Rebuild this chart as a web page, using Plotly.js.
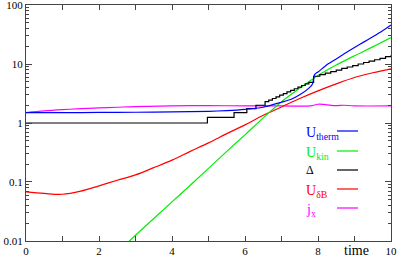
<!DOCTYPE html>
<html>
<head>
<meta charset="utf-8">
<script src="https://cdn.plot.ly/plotly-3.0.1.min.js"></script>
<style>html,body{margin:0;padding:0;background:#fff;}#chart{width:399px;height:258px;}</style>
</head>
<body>
<div id="chart"></div>
<script>
// ---- data ----
const thermT = [0, 1, 2, 3, 4, 5, 5.5, 6, 6.5, 7, 7.25, 7.5, 7.75, 7.85, 7.9, 7.95, 8, 8.25, 8.5, 8.75, 9, 9.25, 9.5, 9.75, 10];
const thermV = [1.5, 1.5, 1.51, 1.52, 1.54, 1.58, 1.62, 1.7, 1.85, 2.25, 2.5, 3.0, 3.9, 4.6, 6.5, 7.0, 7.3, 9.8, 12.2, 15.3, 19, 23.5, 29, 36, 46];

const kinT = [2.8, 3, 3.5, 4, 4.5, 5, 5.5, 6, 6.5, 7, 7.5, 8, 8.5, 9, 9.5, 10];
const kinV = [0.0095, 0.0125, 0.024, 0.046, 0.088, 0.17, 0.33, 0.63, 1.22, 2.3, 3.9, 6.4, 9.6, 13.8, 19.5, 28];

const deltaT = [0, 4.97, 5.7, 6.05, 6.3, 6.55, 6.65, 6.75, 6.85, 6.95, 7.05, 7.15, 7.25, 7.35, 7.45, 7.55, 7.65, 7.75, 7.88, 8.05, 8.2, 8.35, 8.5, 8.65, 8.8, 8.95, 9.1, 9.25, 9.4, 9.55, 9.7, 9.85, 10];
const deltaV = [1.0, 1.25, 1.5, 1.75, 2.0, 2.3, 2.45, 2.6, 2.78, 2.96, 3.15, 3.36, 3.58, 3.81, 4.06, 4.32, 4.6, 4.9, 6.2, 6.6, 7.0, 7.4, 7.9, 8.4, 8.9, 9.4, 10.0, 10.6, 11.2, 11.8, 12.5, 13.3, 14.1];

const dbT = [0, 0.5, 1, 1.5, 2, 2.5, 3, 3.5, 4, 4.5, 5, 5.5, 6, 6.5, 7, 7.5, 8, 8.5, 9, 9.5, 10];
const dbV = [0.068, 0.064, 0.062, 0.07, 0.086, 0.107, 0.132, 0.175, 0.235, 0.33, 0.46, 0.66, 0.93, 1.35, 1.87, 2.6, 3.5, 4.6, 5.9, 7.1, 8.3];

const jxT = [0, 0.5, 1, 1.5, 2, 2.5, 3, 4, 5, 6, 7, 7.8, 8, 8.2, 8.5, 8.7, 9, 10];
const jxV = [1.5, 1.6, 1.68, 1.75, 1.8, 1.85, 1.9, 1.95, 1.97, 1.95, 1.95, 1.95, 2.08, 2.05, 1.97, 2.0, 1.95, 1.95];

const seriesNames = ['U<sub>therm</sub>', 'U<sub>kin</sub>', 'Δ', 'U<sub>δB</sub>', 'j<sub>x</sub>'];
const seriesColors = ['#0000ff', '#00ee00', '#000000', '#ff0000', '#ff00ff'];

const xTickVals = [0, 1, 2, 3, 4, 5, 6, 7, 8, 9, 10];
const xTickText = ['0', '', '2', '', '4', '', '6', '', '8', '', '10'];
const yTickVals = [0.01, 0.1, 1, 10, 100];
const yTickText = ['0.01', '0.1', '1', '10', '100'];

// ---- build ----
const serif = 'Liberation Serif, Times New Roman, serif';
const yMinor = [];
[0.01, 0.1, 1, 10].forEach(d => { for (let k = 2; k <= 9; k++) yMinor.push(d * k); });

const xs = [thermT, kinT, deltaT, dbT, jxT];
const ys = [thermV, kinV, deltaV, dbV, jxV];
const shapesOf = ['spline', 'spline', 'hv', 'spline', 'spline'];
const traces = xs.map((x, i) => ({
  x: x, y: ys[i], type: 'scatter', mode: 'lines', name: seriesNames[i],
  line: {color: seriesColors[i], width: 1.2, shape: shapesOf[i], smoothing: i === 0 ? 0.5 : 1},
  hoverinfo: 'skip', cliponaxis: true
}));
const ordered = [traces[4], traces[3], traces[1], traces[2], traces[0]];

const L = 26, R = 391, T = 5, B = 241;
const px = v => (v - L) / (R - L);
const py = v => (B - v) / (B - T);
const rowsY = [131, 151, 170, 189, 208];
const annotations = seriesNames.map((n, i) => ({
  xref: 'paper', yref: 'paper', x: px(304), y: py(rowsY[i] + (i === 2 ? 0 : 2)),
  xanchor: 'left', yanchor: 'middle', showarrow: false, text: n,
  font: {family: serif, size: i === 2 ? 12 : 14, color: seriesColors[i]}
}));
annotations.push({xref: 'paper', yref: 'paper', x: px(356), y: py(250.5), xanchor: 'center', yanchor: 'middle',
  showarrow: false, text: 'time', font: {family: serif, size: 14, color: '#000'}});
const shapes = rowsY.map((r, i) => ({
  type: 'line', xref: 'paper', yref: 'paper', x0: px(337), x1: px(358), y0: py(r), y1: py(r),
  line: {color: seriesColors[i], width: 1.2}
}));

const layout = {
  width: 399, height: 258,
  margin: {l: L, r: 399 - R, t: T, b: 258 - B, pad: 0},
  paper_bgcolor: '#fff', plot_bgcolor: '#fff', showlegend: false,
  font: {family: serif, size: 11, color: '#000'},
  xaxis: {range: [0, 10], tickvals: xTickVals, ticktext: xTickText, ticks: 'inside', ticklen: 5,
    tickcolor: '#444', mirror: 'ticks', showline: true, linecolor: '#444', linewidth: 1,
    showgrid: false, zeroline: false, tickfont: {family: serif, size: 11}, ticklabeloverflow: 'allow'},
  yaxis: {type: 'log', range: [-2.0002, 2.0002], tickvals: yTickVals, ticktext: yTickText, ticks: 'inside', ticklen: 6,
    tickcolor: '#444', mirror: 'ticks', showline: true, linecolor: '#444', linewidth: 1,
    showgrid: false, zeroline: false, tickfont: {family: serif, size: 11}, ticklabeloverflow: 'allow',
    minor: {tickvals: yMinor, ticks: 'inside', ticklen: 3, tickcolor: '#444', showgrid: false}},
  annotations: annotations, shapes: shapes
};
Plotly.newPlot('chart', ordered, layout, {staticPlot: true, displayModeBar: false});
</script>
</body>
</html>
